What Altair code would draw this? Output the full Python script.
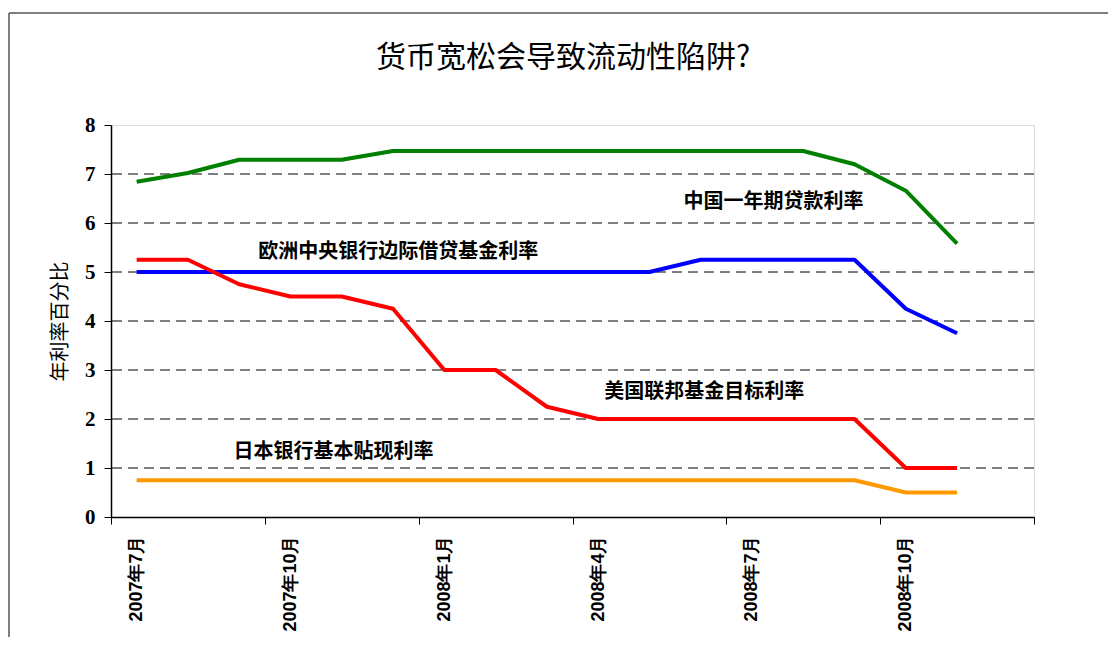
import altair as alt
import pandas as pd

months = ["2007年7月", "2007年8月", "2007年9月", "2007年10月", "2007年11月", "2007年12月",
          "2008年1月", "2008年2月", "2008年3月", "2008年4月", "2008年5月", "2008年6月",
          "2008年7月", "2008年8月", "2008年9月", "2008年10月", "2008年11月"]
axis_months = months + ["2008年12月"]

china = [6.84, 7.02, 7.29, 7.29, 7.29, 7.47, 7.47, 7.47, 7.47, 7.47, 7.47, 7.47, 7.47, 7.47, 7.20, 6.66, 5.58]
ecb = [5.00, 5.00, 5.00, 5.00, 5.00, 5.00, 5.00, 5.00, 5.00, 5.00, 5.00, 5.25, 5.25, 5.25, 5.25, 4.25, 3.75]
fed = [5.25, 5.25, 4.75, 4.50, 4.50, 4.25, 3.00, 3.00, 2.25, 2.00, 2.00, 2.00, 2.00, 2.00, 2.00, 1.00, 1.00]
boj = [0.75, 0.75, 0.75, 0.75, 0.75, 0.75, 0.75, 0.75, 0.75, 0.75, 0.75, 0.75, 0.75, 0.75, 0.75, 0.50, 0.50]

series_names = ["中国一年期贷款利率", "欧洲中央银行边际借贷基金利率", "日本银行基本贴现利率", "美国联邦基金目标利率"]
series_colors = ["#008000", "#0000ff", "#ff9900", "#ff0000"]
series_values = [china, ecb, boj, fed]

label_x = [12.42, 5.1, 3.84, 11.07]
label_y = [6.43, 5.41, 1.33, 2.55]

title_text = "货币宽松会导致流动性陷阱?"

grid_values = [1, 2, 3, 4, 5, 6, 7]
y_ticks = [0, 1, 2, 3, 4, 5, 6, 7, 8]
x_tick_positions = [-0.5, 2.5, 5.5, 8.5, 11.5, 14.5, 17.5]

CJK = "Noto Sans CJK SC"

rows = []
for name, vals in zip(series_names, series_values):
    for i, v in enumerate(vals):
        rows.append({"idx": i, "month": months[i], "value": v, "series": name})
df = pd.DataFrame(rows)

labels_df = pd.DataFrame({"series": series_names, "x": label_x, "y": label_y})
grid_df = pd.DataFrame({"g": grid_values})
one = pd.DataFrame({"a": [0]})

W, H = 923, 392
xscale = alt.Scale(domain=[-0.5, 17.5], nice=False, zero=False)
yscale = alt.Scale(domain=[0, 8], nice=False)

label_list = "[" + ",".join("'" + m + "'" for m in axis_months) + "]"
label_expr = ("((datum.value + 0.5) % 3 == 0) ? (" + label_list +
              "[datum.value + 0.5] || '') : ''")

x_axis = alt.Axis(values=x_tick_positions, labelExpr=label_expr, labelAngle=-90,
                  labelAlign="right", labelBaseline="middle", labelOffset=W / 18 / 2,
                  labelFont="Liberation Sans", labelFontWeight="bold", labelFontSize=18,
                  labelColor="#000", labelPadding=11, labelFlush=False, labelOverlap=False,
                  labelBound=False, tickSize=7, tickColor="#000", tickWidth=1,
                  domainColor="#000", domainWidth=1.5, grid=False, title=None)
y_axis = alt.Axis(values=y_ticks, labelFont="Liberation Serif", labelFontWeight="bold",
                  labelFontSize=21, labelColor="#000", labelPadding=9, tickSize=7,
                  tickColor="#000", tickWidth=1, domainColor="#000", domainWidth=1.5,
                  grid=False, title="年利率百分比", titleFont=CJK, titleFontSize=20,
                  titleFontWeight="normal", titleColor="#000", titlePadding=14)

grid = alt.Chart(grid_df).mark_rule(color="#000000", strokeWidth=1, strokeDash=[10, 6]).encode(
    y=alt.Y("g:Q", scale=yscale, axis=y_axis)
)

lines = alt.Chart(df).mark_line(strokeWidth=4, strokeJoin="round").encode(
    x=alt.X("idx:Q", scale=xscale, axis=x_axis),
    y=alt.Y("value:Q", scale=yscale, axis=y_axis),
    color=alt.Color("series:N", scale=alt.Scale(domain=series_names, range=series_colors),
                    legend=None),
    order=alt.Order("idx:Q"),
)

texts = alt.Chart(labels_df).mark_text(font=CJK, fontWeight="bold", fontSize=20,
                                       color="#000", align="center", baseline="middle").encode(
    x=alt.X("x:Q", scale=xscale),
    y=alt.Y("y:Q", scale=yscale),
    text="series:N",
)

title_mark = alt.Chart(one).mark_text(font=CJK, fontSize=30, fontWeight="normal",
                                      color="#000", align="center", baseline="middle").encode(
    x=alt.value(452), y=alt.value(-67), text=alt.value(title_text)
)

frame_left = alt.Chart(one).mark_rule(color="#555555", strokeWidth=1.5).encode(
    x=alt.value(-102), y=alt.value(-112), y2=alt.value(540)
)
frame_top = alt.Chart(one).mark_rule(color="#555555", strokeWidth=1.5).encode(
    x=alt.value(-102), x2=alt.value(1010), y=alt.value(-112)
)

chart = alt.layer(grid, lines, texts, title_mark, frame_left, frame_top).properties(
    width=W, height=H,
    autosize=alt.AutoSizeParams(type="none"),
    padding={"left": 103, "top": 117, "right": 74, "bottom": 120},
).configure_view(stroke="#999999", strokeWidth=2).configure(background="#ffffff")

chart.save("out.html", embed_options={"renderer": "svg", "actions": False})
